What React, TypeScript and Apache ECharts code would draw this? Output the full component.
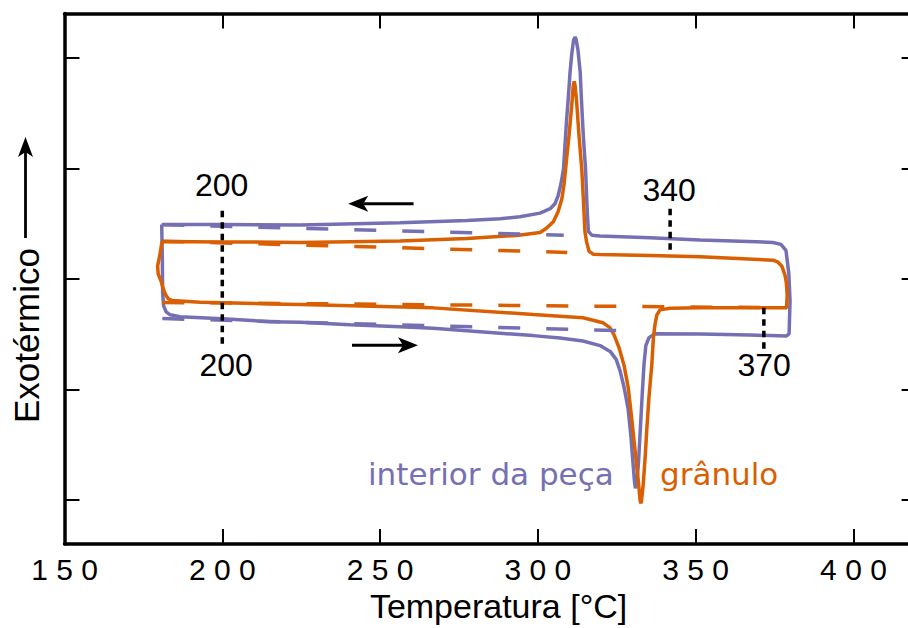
import React, { useEffect, useRef } from "react";
import * as echarts from "echarts";

// ---- axis ticks ----
const xTicks = [150, 200, 250, 300, 350, 400];
const yTicks = [-2, -1, 0, 1, 2];

// ---- "interior da peça" loop: [temperature °C, heat-flow signal] ----
const interiorLoop: [number, number][] = [
  [180.8, 0.491], [181.0, 0.186], [181.1, -0.128], [181.4, -0.245], [182.2, -0.299],
  [183.5, -0.326], [186.6, -0.343], [200.0, -0.361], [215.2, -0.388], [224.7, -0.393],
  [240.5, -0.415], [256.3, -0.433], [266.8, -0.447], [281.7, -0.478], [298.5, -0.514],
  [307.0, -0.536], [314.3, -0.563], [319.7, -0.604], [322.9, -0.657], [324.8, -0.729],
  [326.0, -0.828], [327.3, -0.98], [328.6, -1.178], [329.5, -1.429], [330.1, -1.653],
  [330.6, -1.832], [330.9, -1.895], [331.4, -1.832], [331.9, -1.653], [332.5, -1.339],
  [333.1, -1.025], [333.6, -0.783], [334.2, -0.604], [335.2, -0.532], [337.1, -0.496],
  [351.4, -0.5], [367.2, -0.509], [378.8, -0.517], [379.6, -0.496], [379.9, -0.2],
  [379.5, 0.051], [378.6, 0.257], [377.0, 0.311], [374.5, 0.329], [351.4, 0.352],
  [335.5, 0.371], [319.7, 0.387], [317.1, 0.395], [316.0, 0.428], [315.6, 0.634],
  [315.1, 0.993], [314.4, 1.291], [313.8, 1.621], [313.4, 1.872], [312.7, 2.069],
  [312.1, 2.168], [311.8, 2.188], [311.3, 2.159], [310.7, 2.024], [310.2, 1.872],
  [309.6, 1.621], [309.1, 1.441], [308.6, 1.217], [308.1, 0.993], [307.3, 0.858],
  [306.4, 0.751], [305.4, 0.679], [303.9, 0.634], [300.7, 0.594], [294.3, 0.562],
  [288.1, 0.544], [277.5, 0.527], [256.3, 0.506], [224.7, 0.486], [200.0, 0.491],
  [180.8, 0.491],
];

// ---- "grânulo" loop ----
const granuloLoop: [number, number][] = [
  [180.9, 0.338], [180.3, 0.23], [179.5, 0.114], [179.7, 0.042], [180.6, -0.021],
  [181.2, -0.083], [181.9, -0.137], [182.8, -0.178], [184.1, -0.197], [193.0, -0.213],
  [215.2, -0.227], [224.7, -0.233], [266.8, -0.263], [298.5, -0.323], [314.3, -0.352],
  [320.6, -0.397], [322.8, -0.442], [324.1, -0.505], [325.7, -0.622], [327.3, -0.783],
  [328.6, -0.98], [329.5, -1.204], [330.5, -1.473], [331.3, -1.697], [331.9, -1.85],
  [332.4, -2.012], [332.7, -2.03], [333.1, -1.94], [333.4, -1.85], [334.0, -1.608],
  [334.5, -1.366], [335.2, -1.07], [336.1, -0.774], [336.6, -0.532], [337.1, -0.415],
  [337.7, -0.326], [338.7, -0.281], [341.9, -0.267], [351.4, -0.263], [378.8, -0.263],
  [379.0, -0.146], [378.7, -0.03], [378.3, 0.033], [377.3, 0.114], [376.1, 0.15],
  [374.5, 0.168], [351.4, 0.199], [335.5, 0.21], [319.7, 0.219], [317.6, 0.222],
  [316.2, 0.248], [315.4, 0.338], [314.9, 0.428], [314.4, 0.724], [313.9, 0.993],
  [313.0, 1.307], [312.3, 1.594], [311.8, 1.746], [311.5, 1.785], [311.2, 1.746],
  [310.7, 1.561], [309.9, 1.307], [309.1, 1.083], [308.3, 0.858], [307.6, 0.724],
  [306.4, 0.607], [304.9, 0.517], [302.6, 0.455], [300.7, 0.419], [293.3, 0.392],
  [277.5, 0.365], [256.3, 0.343], [224.7, 0.329], [200.0, 0.334], [180.9, 0.338],
];

// ---- dashed baselines ----
const interiorBaseUpper: [number, number][] = [[181, 0.49], [308.2, 0.395]];
const interiorBaseLower: [number, number][] = [[181, -0.36], [329.5, -0.472]];
const granuloBaseUpper: [number, number][] = [[181, 0.34], [309.3, 0.239]];
const granuloBaseLower: [number, number][] = [[181, -0.214], [378.8, -0.262]];

// ---- dotted markers ----
const markerX = [200, 341.9, 371.6];
const markerTop = [0.616, 0.634, -0.263];
const markerBottom = [-0.595, 0.23, -0.648];

// ---- annotation labels ----
const annoText = ["200", "340", "200", "370"];
const annoX = [199.8, 341.6, 201.2, 371.7];
const annoY = [0.845, 0.8, -0.783, -0.778];

// ---- direction arrows [from, to] ----
const arrowFrom: [number, number][] = [[260.6, 0.679], [241.1, -0.601]];
const arrowTo: [number, number][] = [[239.9, 0.679], [262.0, -0.601]];

const PURPLE = "#7570b3";
const ORANGE = "#d95f02";
const ARIAL = "'Liberation Sans', Arial, Helvetica, sans-serif";
const DEJAVU = "'DejaVu Sans', sans-serif";

const CHART_W = 940;
const CHART_H = 628;

export default function App() {
  const ref = useRef<HTMLDivElement>(null);

  useEffect(() => {
    if (!ref.current) return;
    const chart = echarts.init(ref.current, undefined, { renderer: "svg" });

    const axisLine = { show: true, onZero: false, lineStyle: { color: "#000", width: 3.5 } };
    const tick = (vals: number[]) => ({
      show: true,
      inside: true,
      length: 15,
      customValues: vals,
      lineStyle: { color: "#000", width: 2 },
    });

    const option: any = {
      animation: false,
      backgroundColor: "#fff",
      grid: { left: 64.5, top: 13.5, right: CHART_W - 916.6, bottom: 79.5, containLabel: false },
      xAxis: [
        {
          type: "value",
          min: 150,
          max: 420,
          position: "bottom",
          axisLine,
          axisTick: tick(xTicks),
          axisLabel: {
            show: true,
            customValues: xTicks,
            formatter: (v: number) => String(v).split("").join(" "),
            fontSize: 30,
            fontFamily: ARIAL,
            color: "#000",
            margin: 10,
          },
          splitLine: { show: false },
          name: "Temperatura [°C]",
          nameLocation: "middle",
          nameGap: 42,
          nameTextStyle: {
            fontSize: 34,
            fontFamily: ARIAL,
            color: "#000",
            padding: [0, 0, 0, 16],
          },
        },
        {
          type: "value",
          min: 150,
          max: 420,
          position: "top",
          axisLine,
          axisTick: tick(xTicks),
          axisLabel: { show: false },
          splitLine: { show: false },
        },
      ],
      yAxis: [
        {
          type: "value",
          min: -2.4,
          max: 2.4,
          position: "left",
          axisLine,
          axisTick: tick(yTicks),
          axisLabel: { show: false },
          splitLine: { show: false },
        },
        {
          type: "value",
          min: -2.4,
          max: 2.4,
          position: "right",
          axisLine,
          axisTick: tick(yTicks),
          axisLabel: { show: false },
          splitLine: { show: false },
        },
      ],
      series: [
        {
          name: "interior da peça",
          type: "line",
          data: interiorLoop,
          showSymbol: false,
          symbol: "none",
          smooth: false,
          lineStyle: { color: PURPLE, width: 3.5 },
          z: 2,
        },
        {
          name: "grânulo",
          type: "line",
          data: granuloLoop,
          showSymbol: false,
          symbol: "none",
          lineStyle: { color: ORANGE, width: 3.5 },
          z: 3,
        },
        ...[interiorBaseUpper, interiorBaseLower].map((d) => ({
          type: "line",
          data: d,
          symbol: "none",
          lineStyle: { color: PURPLE, width: 3.5, type: [22, 26] },
          z: 4,
        })),
        ...[granuloBaseUpper, granuloBaseLower].map((d) => ({
          type: "line",
          data: d,
          symbol: "none",
          lineStyle: { color: ORANGE, width: 3.5, type: [22, 26] },
          z: 4,
        })),
        {
          type: "custom",
          silent: true,
          z: 6,
          data: markerX.map((x, i) => [x, markerTop[i], markerBottom[i]]),
          renderItem: (params: any, api: any) => {
            const a = api.coord([api.value(0), api.value(1)]);
            const b = api.coord([api.value(0), api.value(2)]);
            return {
              type: "line",
              shape: { x1: a[0], y1: a[1], x2: b[0], y2: b[1] },
              style: { stroke: "#000", lineWidth: 3.5, lineDash: [6.5, 5] },
            };
          },
        },
        {
          type: "custom",
          silent: true,
          z: 6,
          data: arrowFrom.map((f, i) => [f[0], f[1], arrowTo[i][0], arrowTo[i][1]]),
          renderItem: (params: any, api: any) => {
            const p0 = api.coord([api.value(0), api.value(1)]);
            const p1 = api.coord([api.value(2), api.value(3)]);
            const dx = p1[0] - p0[0];
            const dy = p1[1] - p0[1];
            const len = Math.hypot(dx, dy) || 1;
            const ux = dx / len;
            const uy = dy / len;
            const nx = -uy;
            const ny = ux;
            const L = 20;
            const W = 8;
            const bx = p1[0] - ux * L;
            const by = p1[1] - uy * L;
            const notchX = bx + ux * 5;
            const notchY = by + uy * 5;
            return {
              type: "group",
              children: [
                {
                  type: "line",
                  shape: { x1: p0[0], y1: p0[1], x2: notchX, y2: notchY },
                  style: { stroke: "#000", lineWidth: 2.8 },
                },
                {
                  type: "polygon",
                  shape: {
                    points: [
                      [p1[0], p1[1]],
                      [bx + nx * W, by + ny * W],
                      [notchX, notchY],
                      [bx - nx * W, by - ny * W],
                    ],
                  },
                  style: { fill: "#000" },
                },
              ],
            };
          },
        },
        {
          type: "custom",
          silent: true,
          z: 7,
          data: annoX.map((x, i) => [x, annoY[i]]),
          renderItem: (params: any, api: any) => {
            const p = api.coord([api.value(0), api.value(1)]);
            return {
              type: "text",
              x: p[0],
              y: p[1],
              style: {
                text: annoText[params.dataIndex],
                fill: "#000",
                fontSize: 32,
                fontFamily: ARIAL,
                align: "center",
                verticalAlign: "middle",
                textAlign: "center",
                textVerticalAlign: "middle",
              },
            };
          },
        },
      ],
      graphic: [
        {
          type: "text",
          x: 26,
          y: 335.5,
          rotation: Math.PI / 2,
          style: {
            text: "Exotérmico",
            fill: "#000",
            fontSize: 35,
            fontFamily: ARIAL,
            align: "center",
            verticalAlign: "middle",
          },
        },
        {
          type: "line",
          shape: { x1: 25.5, y1: 238, x2: 25.5, y2: 152 },
          style: { stroke: "#000", lineWidth: 2.8 },
        },
        {
          type: "polygon",
          shape: { points: [[25.5, 137], [18, 157], [25.5, 152], [33, 157]] },
          style: { fill: "#000" },
        },
        {
          type: "text",
          x: 368,
          y: 474,
          style: {
            text: "interior da peça",
            fill: PURPLE,
            fontSize: 31,
            fontFamily: DEJAVU,
            align: "left",
            verticalAlign: "middle",
          },
        },
        {
          type: "text",
          x: 660,
          y: 474,
          style: {
            text: "grânulo",
            fill: ORANGE,
            fontSize: 31,
            fontFamily: DEJAVU,
            align: "left",
            verticalAlign: "middle",
          },
        },
      ],
    };

    chart.setOption(option);
    return () => chart.dispose();
  }, []);

  return (
    <div
      style={{
        position: "fixed",
        left: 0,
        top: 0,
        width: 908,
        height: 628,
        overflow: "hidden",
        background: "#fff",
      }}
    >
      <div ref={ref} style={{ width: CHART_W, height: CHART_H }} />
    </div>
  );
}
